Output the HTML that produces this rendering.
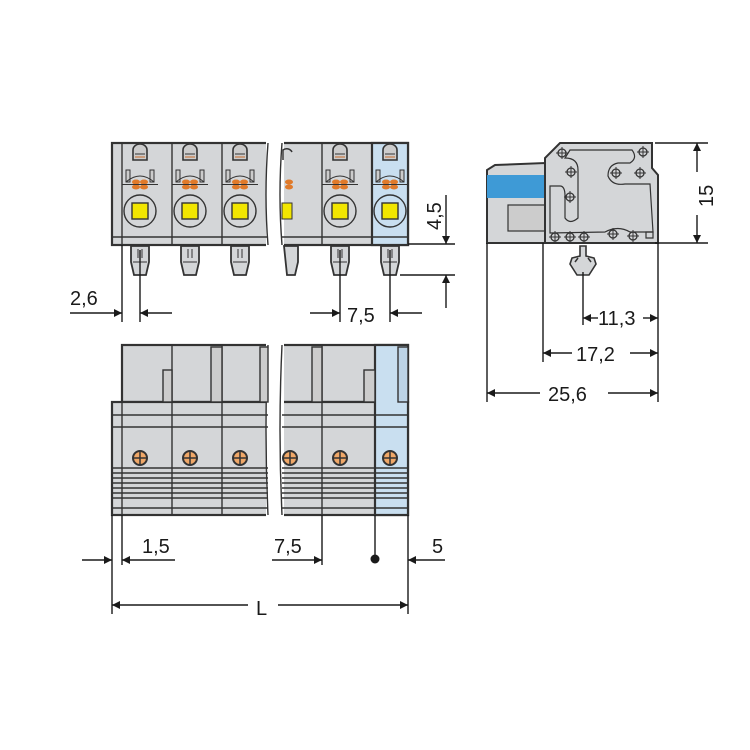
<!DOCTYPE html>
<html><head><meta charset="utf-8"><style>
html,body{margin:0;padding:0;background:#fff}
svg{display:block}
text{font-family:"Liberation Sans",sans-serif;font-size:20px;fill:#1a1a1a}
</style></head><body>
<svg width="750" height="750" viewBox="0 0 750 750" xmlns="http://www.w3.org/2000/svg">
<defs>
<marker id="a" viewBox="0 0 10 10" refX="10" refY="5" markerWidth="13" markerHeight="8" orient="auto-start-reverse" markerUnits="userSpaceOnUse"><path d="M0,0 L10,5 L0,10 z" fill="#1a1a1a"/></marker>
<g id="pin"><path d="M-9,0 L9,0 L9,16 L6,29 L-6,29 L-9,16 z" fill="#d4d6d8" stroke="#333" stroke-width="1.8"/><line x1="-2" y1="3" x2="-2" y2="12" stroke="#333"/><line x1="2" y1="3" x2="2" y2="12" stroke="#333"/><line x1="-7" y1="16" x2="7" y2="16" stroke="#333"/></g>
<g id="cellTop">
<path d="M-7,20 L-7,10 A7,6 0 0 1 7,10 L7,20 z" fill="#ccc" stroke="#333" stroke-width="1.6"/>
<line x1="-5" y1="14" x2="5" y2="14" stroke="#333"/><line x1="-5" y1="17" x2="5" y2="17" stroke="#c76a2a"/>
<rect x="-14" y="30" width="4" height="12" fill="#ccc" stroke="#333"/><rect x="10" y="30" width="4" height="12" fill="#ccc" stroke="#333"/>
<path d="M-14,42 Q0,30 14,42" fill="none" stroke="#333"/>
<ellipse cx="-4" cy="42" rx="4" ry="2.5" fill="#e07a2a"/><ellipse cx="4" cy="42" rx="4" ry="2.5" fill="#e07a2a"/>
<ellipse cx="-4" cy="47" rx="4" ry="2.5" fill="#e07a2a"/><ellipse cx="4" cy="47" rx="4" ry="2.5" fill="#e07a2a"/>
<line x1="-18" y1="44.5" x2="18" y2="44.5" stroke="#333"/>
<circle cx="0" cy="71" r="16" fill="none" stroke="#333" stroke-width="1.4"/>
<rect x="-8" y="63" width="16" height="16" fill="#f2e600" stroke="#333" stroke-width="1.4"/>
</g>
<g id="screw"><circle r="7" fill="#f0a868" stroke="#333" stroke-width="2"/><line x1="-7" y1="0" x2="7" y2="0" stroke="#333" stroke-width="1.5"/><line x1="0" y1="-7" x2="0" y2="7" stroke="#333" stroke-width="1.5"/></g>
<g id="cross"><circle r="4" fill="none" stroke="#333" stroke-width="1.3"/><line x1="-6" y1="0" x2="6" y2="0" stroke="#333"/><line x1="0" y1="-6" x2="0" y2="6" stroke="#333"/></g>
</defs>

<!-- TOP VIEW -->
<g stroke="#333" stroke-width="2.2">
<rect x="112" y="143" width="156" height="102" fill="#d4d6d8"/>
<rect x="282" y="143" width="126" height="102" fill="#d4d6d8"/>
<rect x="372" y="143" width="36" height="102" fill="#c9dff0"/>
</g>
<rect x="266" y="141" width="18" height="106" fill="#fff"/>
<g stroke="#333" stroke-width="1.4" fill="none">
<line x1="122" y1="143" x2="122" y2="245"/><line x1="172" y1="143" x2="172" y2="245"/><line x1="222" y1="143" x2="222" y2="245"/>
<line x1="322" y1="143" x2="322" y2="245"/><line x1="372" y1="143" x2="372" y2="245"/>
<line x1="112" y1="237" x2="268" y2="237"/><line x1="282" y1="237" x2="408" y2="237"/>
<path d="M268,143 Q264,195 268,245" /><path d="M282,143 Q278,195 282,245"/>
</g>
<use href="#cellTop" x="140" y="140"/><use href="#cellTop" x="190" y="140"/><use href="#cellTop" x="240" y="140"/>
<use href="#cellTop" x="340" y="140"/><use href="#cellTop" x="390" y="140"/>
<g><rect x="282" y="203" width="10" height="16" fill="#f2e600" stroke="#333"/><path d="M283,160 L283,150 A6,6 0 0 1 292,152" fill="none" stroke="#333" stroke-width="1.5"/><ellipse cx="289" cy="182" rx="4" ry="2.5" fill="#e07a2a"/><ellipse cx="289" cy="187" rx="4" ry="2.5" fill="#e07a2a"/></g>
<use href="#pin" x="140" y="246"/><use href="#pin" x="190" y="246"/><use href="#pin" x="240" y="246"/>
<use href="#pin" x="340" y="246"/><use href="#pin" x="390" y="246"/>
<path d="M284,246 L298,246 L298,262 L295,275 L287,275 z" fill="#d4d6d8" stroke="#333" stroke-width="1.8"/>

<!-- top dims -->
<g stroke="#1a1a1a" stroke-width="1.4" fill="none">
<line x1="122" y1="245" x2="122" y2="322"/><line x1="140" y1="250" x2="140" y2="322"/>
<line x1="70" y1="313" x2="122" y2="313" marker-end="url(#a)"/>
<line x1="172" y1="313" x2="140" y2="313" marker-end="url(#a)"/>
<line x1="340" y1="250" x2="340" y2="322"/><line x1="390" y1="250" x2="390" y2="322"/>
<line x1="310" y1="313" x2="340" y2="313" marker-end="url(#a)"/>
<line x1="422" y1="313" x2="390" y2="313" marker-end="url(#a)"/>
<line x1="408" y1="244" x2="455" y2="244"/><line x1="400" y1="275" x2="455" y2="275"/>
<line x1="446" y1="195" x2="446" y2="244" marker-end="url(#a)"/>
<line x1="446" y1="308" x2="446" y2="275" marker-end="url(#a)"/>
</g>
<text x="70" y="305">2,6</text>
<text x="347" y="322">7,5</text>
<text transform="translate(441,230) rotate(-90)">4,5</text>

<!-- BOTTOM VIEW -->
<g stroke="#333" stroke-width="2.2">
<rect x="122" y="345" width="146" height="57" fill="#d4d6d8"/>
<rect x="282" y="345" width="126" height="57" fill="#d4d6d8"/>
<rect x="112" y="402" width="156" height="113" fill="#d4d6d8"/>
<rect x="282" y="402" width="126" height="113" fill="#d4d6d8"/>
<rect x="375" y="345" width="33" height="170" fill="#c9dff0"/>
</g>
<rect x="266" y="343" width="18" height="174" fill="#fff"/>
<g stroke="#333" stroke-width="1.4" fill="none">
<path d="M268,345 Q264,430 268,515"/><path d="M282,345 Q278,430 282,515"/>
<line x1="122" y1="402" x2="122" y2="515"/><line x1="172" y1="345" x2="172" y2="515"/><line x1="222" y1="345" x2="222" y2="515"/>
<line x1="322" y1="345" x2="322" y2="515"/><line x1="375" y1="345" x2="375" y2="515"/>
<line x1="112" y1="415" x2="268" y2="415"/><line x1="282" y1="415" x2="408" y2="415"/>
<line x1="112" y1="427" x2="268" y2="427"/><line x1="282" y1="427" x2="408" y2="427"/>
<line x1="112" y1="468" x2="268" y2="468"/><line x1="282" y1="468" x2="408" y2="468"/>
<line x1="112" y1="473" x2="268" y2="473"/><line x1="282" y1="473" x2="408" y2="473"/>
<line x1="112" y1="478" x2="268" y2="478"/><line x1="282" y1="478" x2="408" y2="478"/>
<line x1="112" y1="483" x2="268" y2="483"/><line x1="282" y1="483" x2="408" y2="483"/>
<line x1="112" y1="488" x2="268" y2="488"/><line x1="282" y1="488" x2="408" y2="488"/>
<line x1="112" y1="493" x2="268" y2="493"/><line x1="282" y1="493" x2="408" y2="493"/>
<line x1="112" y1="498" x2="268" y2="498"/><line x1="282" y1="498" x2="408" y2="498"/>
<line x1="112" y1="508" x2="268" y2="508"/><line x1="282" y1="508" x2="408" y2="508"/>
<rect x="163" y="370" width="9" height="32" fill="#ccc"/><rect x="211" y="347" width="11" height="55" fill="#ccc"/>
<rect x="260" y="347" width="8" height="55" fill="#ccc"/><rect x="312" y="347" width="10" height="55" fill="#ccc"/>
<rect x="364" y="370" width="11" height="32" fill="#ccc"/><rect x="398" y="347" width="10" height="55" fill="#bcd3e6"/>
</g>
<use href="#screw" x="140" y="458"/><use href="#screw" x="190" y="458"/><use href="#screw" x="240" y="458"/>
<use href="#screw" x="290" y="458"/><use href="#screw" x="340" y="458"/><use href="#screw" x="390" y="458"/>

<!-- bottom dims -->
<g stroke="#1a1a1a" stroke-width="1.4" fill="none">
<line x1="112" y1="515" x2="112" y2="614"/><line x1="408" y1="515" x2="408" y2="614"/>
<line x1="122" y1="515" x2="122" y2="565"/><line x1="322" y1="515" x2="322" y2="565"/>
<line x1="375" y1="515" x2="375" y2="558"/>
<line x1="82" y1="560" x2="112" y2="560" marker-end="url(#a)"/>
<line x1="175" y1="560" x2="122" y2="560" marker-end="url(#a)"/>
<line x1="272" y1="560" x2="322" y2="560" marker-end="url(#a)"/>
<line x1="445" y1="560" x2="408" y2="560" marker-end="url(#a)"/>
<line x1="248" y1="605" x2="112" y2="605" marker-end="url(#a)"/>
<line x1="278" y1="605" x2="408" y2="605" marker-end="url(#a)"/>
</g>
<circle cx="375" cy="559" r="4.5" fill="#1a1a1a"/>
<text x="142" y="553">1,5</text>
<text x="274" y="553">7,5</text>
<text x="432" y="553">5</text>
<text x="256" y="615">L</text>

<!-- SIDE VIEW -->
<g stroke="#333" stroke-width="2">
<path d="M487,243 L487,170 L495,165 L545,163 L545,243 z" fill="#d4d6d8"/>
<rect x="487" y="175" width="58" height="23" fill="#3e9ad6" stroke="none"/>
<rect x="508" y="205" width="37" height="26" fill="#ccc" stroke-width="1.2"/>
<path d="M545,243 L545,158 L560,143 L652,143 L652,168 L658,175 L658,243 z" fill="#d4d6d8"/>
</g>
<g stroke="#333" stroke-width="1.2" fill="none">
<path d="M550,233 L550,186 L560,186 Q565,186 565,196 L565,218 Q570,225 578,218 L578,170 Q578,158 565,158 L570,150 L632,150 Q638,158 630,163 L618,163 Q608,165 608,176 Q612,186 625,184 L650,184 L653,232 L630,232 Q618,225 605,232 z"/>
<path d="M646,232 L653,232 L653,238 L646,238 z"/>
</g>
<use href="#cross" x="562" y="153"/><use href="#cross" x="571" y="172"/><use href="#cross" x="570" y="197"/>
<use href="#cross" x="643" y="152"/><use href="#cross" x="616" y="173"/><use href="#cross" x="640" y="173"/>
<use href="#cross" x="555" y="237"/><use href="#cross" x="570" y="237"/><use href="#cross" x="584" y="237"/>
<use href="#cross" x="613" y="234"/><use href="#cross" x="633" y="236"/>
<path d="M580,246 L580,256 L572,258 L570,264 L577,275 L589,275 L596,264 L594,258 L586,256 L586,246 z" fill="#d4d6d8" stroke="#333" stroke-width="1.6"/>
<path d="M575,262 L578,258 M591,262 L588,258" stroke="#333" stroke-width="1.5"/>

<g stroke="#1a1a1a" stroke-width="1.4" fill="none">
<line x1="655" y1="143" x2="708" y2="143"/><line x1="655" y1="243" x2="708" y2="243"/>
<line x1="697" y1="172" x2="697" y2="143" marker-end="url(#a)"/>
<line x1="697" y1="215" x2="697" y2="243" marker-end="url(#a)"/>
<line x1="487" y1="243" x2="487" y2="402"/><line x1="543" y1="243" x2="543" y2="362"/>
<line x1="583" y1="272" x2="583" y2="325"/><line x1="658" y1="243" x2="658" y2="402"/>
<line x1="598" y1="318" x2="583" y2="318" marker-end="url(#a)"/>
<line x1="643" y1="318" x2="658" y2="318" marker-end="url(#a)"/>
<line x1="572" y1="353" x2="543" y2="353" marker-end="url(#a)"/>
<line x1="630" y1="353" x2="658" y2="353" marker-end="url(#a)"/>
<line x1="540" y1="393" x2="487" y2="393" marker-end="url(#a)"/>
<line x1="608" y1="393" x2="658" y2="393" marker-end="url(#a)"/>
</g>
<text x="598" y="325">11,3</text>
<text x="576" y="361">17,2</text>
<text x="548" y="401">25,6</text>
<text transform="translate(713,207) rotate(-90)">15</text>
</svg>
</body></html>
